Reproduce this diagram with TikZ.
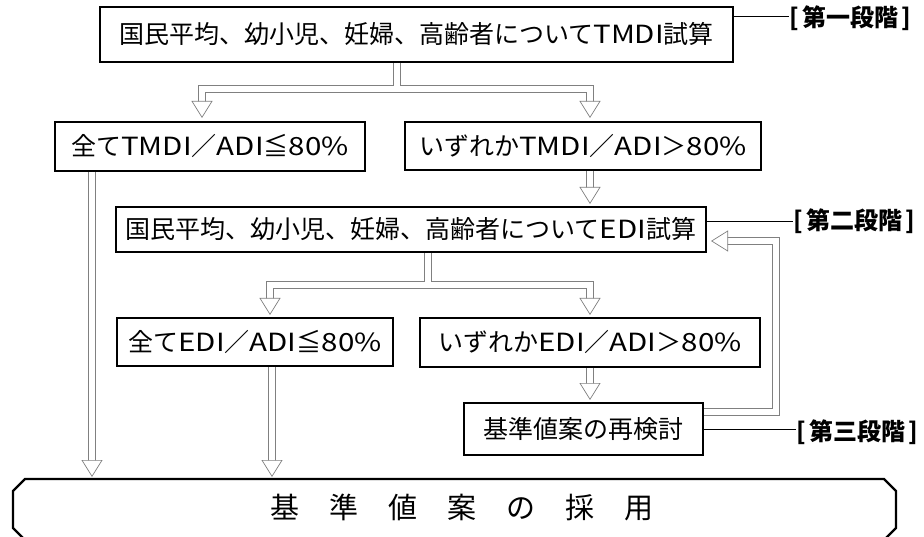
\documentclass[tikz,border=0pt]{standalone}
\usepackage{fontspec}
\setmainfont{Noto Sans CJK JP}
\newfontfamily\latwide[FakeStretch=1.18]{Noto Sans CJK JP}
\newcommand\latw[1]{{\latwide #1}}
\usetikzlibrary{arrows.meta}
\begin{document}
\begin{tikzpicture}[x=1pt,y=-1pt,
  box/.style={draw, line width=1.6pt, inner sep=0pt, font=\fontsize{25}{30}\selectfont},
  stage/.style={anchor=west, inner sep=0pt, font=\bfseries\fontsize{24}{28}\selectfont},
  stageline/.style={draw, line width=1pt},
  hollow/.style={draw=white, line width=0.2pt,
    -{Triangle[open, length=17pt, width=21pt, color=black!50, fill=white, line width=0.7pt]},
    preaction={draw=black!50, line width=8pt, arrows=-, shorten >=14pt},
    preaction={draw=white, line width=6.6pt, arrows=-, shorten >=13pt}}]
\useasboundingbox (0,0) rectangle (924,537);

% boxes
\node[box, minimum width=633pt, minimum height=55pt] (top) at (416.5,34.5) {国民平均、幼小児、妊婦、高齢者について\latw{TMDI}試算};
\node[box, minimum width=310pt, minimum height=49pt] (allT) at (210,146.5) {全て\latw{TMDI}／\latw{ADI}≦\latw{80\%}};
\node[box, minimum width=356pt, minimum height=48pt] (anyT) at (583,146) {いずれか\latw{TMDI}／\latw{ADI}＞\latw{80\%}};
\node[box, minimum width=590pt, minimum height=45pt] (edi) at (411,229.5) {国民平均、幼小児、妊婦、高齢者について\latw{EDI}試算};
\node[box, minimum width=276pt, minimum height=48pt] (allE) at (255,342) {全て\latw{EDI}／\latw{ADI}≦\latw{80\%}};
\node[box, minimum width=340pt, minimum height=49pt] (anyE) at (590,342.5) {いずれか\latw{EDI}／\latw{ADI}＞\latw{80\%}};
\node[box, minimum width=239pt, minimum height=52pt] (rev) at (583.5,429) {基準値案の再検討};

% final
\draw[line width=2.2pt] (25,479) -- (884,479) -- (896,491) -- (896,528) -- (884,540)
  -- (25,540) -- (13,528) -- (13,491) -- cycle;
\node[inner sep=0pt, font=\fontsize{29}{34}\selectfont] (adopt) at (462,507) {基\hspace{30pt}準\hspace{30pt}値\hspace{30pt}案\hspace{30pt}の\hspace{30pt}採\hspace{30pt}用};

% stage labels
\node[stage] (s1) at (789,18) {[\hspace{4pt}第一段階\hspace{3pt}]};
\node[stage] (s2) at (793,221) {[\hspace{4pt}第二段階\hspace{3pt}]};
\node[stage] (s3) at (796,432) {[\hspace{4pt}第三段階\hspace{3pt}]};
\draw[stageline] (top.east |- 0,17) -- (s1.west |- 0,17);
\draw[stageline] (edi.east |- 0,222) -- (s2.west |- 0,222);
\draw[stageline] (rev.east |- 0,429) -- (s3.west |- 0,429);

% coordinates
\coordinate (j1) at (397,89);
\coordinate (a1) at (202,118);
\coordinate (a2) at (590,118);
\coordinate (a3) at (590,204);
\coordinate (j2) at (428,285);
\coordinate (a4) at (270,315);
\coordinate (a5) at (590,315);
\coordinate (a6) at (590,400);
\coordinate (a7) at (92,477);
\coordinate (a8) at (272,477);
\coordinate (c1) at (776,412);
\coordinate (c2) at (776,241);
\coordinate (a9) at (711,241);

% connectors
\draw[hollow] (top.south -| j1) -- (j1) -| (a1);
\draw[hollow] ([xshift=3.3pt]j1) -| (a2);
\draw[hollow] (anyT.south -| a3) -- (a3);
\draw[hollow] (edi.south -| j2) -- (j2) -| (a4);
\draw[hollow] ([xshift=3.3pt]j2) -| (a5);
\draw[hollow] (anyE.south -| a6) -- (a6);
\draw[hollow] (allT.south -| a7) -- (a7);
\draw[hollow] (allE.south -| a8) -- (a8);
\draw[hollow] (rev.east |- c1) -- (c1) -- (c2) -- (a9);
\end{tikzpicture}
\end{document}
